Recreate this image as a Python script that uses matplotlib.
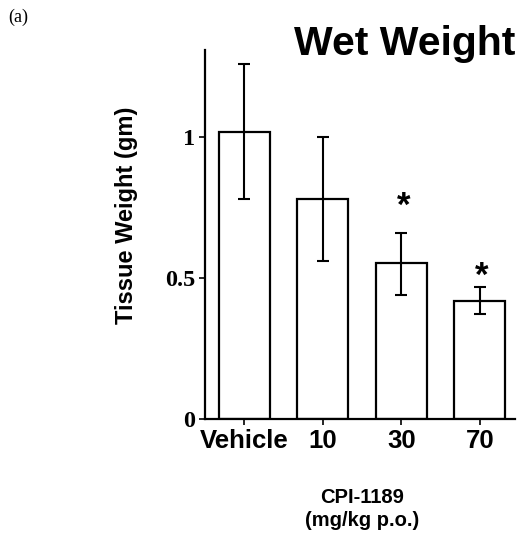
import matplotlib
matplotlib.use("Agg")
import matplotlib.pyplot as plt

# Data
groups = ["Vehicle", "10", "30", "70"]
weights = [1.02, 0.78, 0.553, 0.42]
err_up = [0.24, 0.22, 0.107, 0.048]
err_down = [0.24, 0.22, 0.113, 0.048]
significant = [False, False, True, True]
star_y = [None, None, 0.755, 0.505]
y_ticks = [0, 0.5, 1]
y_tick_labels = ["0", "0.5", "1"]

SANS = "Liberation Sans"
SERIF = "Liberation Serif"

fig = plt.figure(figsize=(5.24, 5.39), dpi=100)
ax = fig.add_axes([0.391, 0.2226, 0.592, 0.6844])

x = list(range(len(groups)))
ax.bar(x, weights, width=0.65, color="white", edgecolor="black", linewidth=1.6, zorder=2)
ax.errorbar(x, weights, yerr=[err_down, err_up], fmt="none", ecolor="black",
            elinewidth=1.5, capsize=4, capthick=1.5, zorder=3)

for xi, sig, sy in zip(x, significant, star_y):
    if sig:
        ax.text(xi + 0.03, sy, "*", ha="center", va="center", fontsize=25,
                fontweight="bold", family=SANS)

ax.set_xlim(-0.5, 3.45)
ax.set_ylim(0, 1.31)

for s in ["top", "right"]:
    ax.spines[s].set_visible(False)
for s in ["left", "bottom"]:
    ax.spines[s].set_linewidth(1.6)

ax.set_yticks(y_ticks)
ax.set_yticklabels(y_tick_labels, family=SERIF, fontweight="bold", fontsize=17.5)
ax.set_xticks(x)
ax.set_xticklabels(groups, family=SANS, fontweight="bold", fontsize=18.5)
ax.tick_params(axis="both", length=4, width=1.2, pad=3)

fig.text(126 / 524, 1 - 215 / 539, "Tissue Weight (gm)", rotation=90,
         ha="center", va="center", family=SANS, fontweight="bold", fontsize=17)
fig.text(362 / 524, 1 - 509 / 539, "CPI-1189\n(mg/kg p.o.)", ha="center",
         va="center", family=SANS, fontweight="bold", fontsize=14.5, linespacing=1.3)
fig.text(515 / 524, 1 - 44 / 539, "Wet Weight", ha="right", va="center",
         family=SANS, fontweight="bold", fontsize=29.5)
fig.text(8 / 524, 1 - 17 / 539, "(a)", ha="left", va="center",
         family=SERIF, fontsize=13)

fig.savefig("out.png", dpi=100)
